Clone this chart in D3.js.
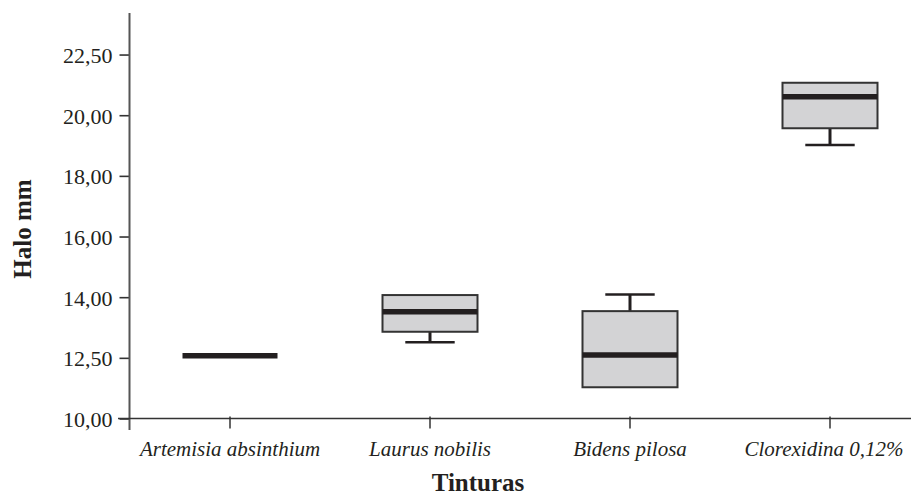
<!DOCTYPE html>
<html>
<head>
<meta charset="utf-8">
<script src="https://cdn.jsdelivr.net/npm/d3@7"></script>
<style>
  html, body { margin: 0; padding: 0; background: #ffffff; }
  svg { display: block; }
  text { font-family: "Liberation Serif", "Times New Roman", serif; fill: #231f20; }
</style>
</head>
<body>
<svg id="chart" width="911" height="497"></svg>
<script>
// Halo size (mm) per tincture: five-number summaries for each box
const categories = ["Artemisia absinthium", "Laurus nobilis", "Bidens pilosa", "Clorexidina 0,12%"];
const minVals    = [12.07, 12.51, 11.03, 19.02];
const q1Vals     = [12.07, 12.86, 11.03, 19.57];
const medianVals = [12.07, 13.52, 12.09, 20.61];
const q3Vals     = [12.07, 14.07, 13.54, 21.07];
const maxVals    = [12.07, 14.07, 14.09, 21.07];

const yTickValues = [10, 12, 14, 16, 18, 20, 22];
const yTickLabels = ["10,00", "12,50", "14,00", "16,00", "18,00", "20,00", "22,50"];

const boxes = categories.map((c, i) => ({
  cat: c, min: minVals[i], q1: q1Vals[i], med: medianVals[i], q3: q3Vals[i], max: maxVals[i]
}));

const svg = d3.select("#chart");

const x = d3.scaleBand().domain(categories).range([130, 930]).paddingInner(0).paddingOuter(0);
const y = d3.scaleLinear().domain([10, 23.37]).range([418.5, 13]);

const boxW = x.bandwidth() * 0.475;
const capW = boxW * 0.52;
const cx = d => x(d.cat) + x.bandwidth() / 2;

// Y axis
const yAxis = d3.axisLeft(y)
  .tickValues(yTickValues)
  .tickFormat((d, i) => yTickLabels[i])
  .tickSize(10)
  .tickPadding(7)
  .tickSizeOuter(0);
const gy = svg.append("g").attr("transform", "translate(129.5,0)").call(yAxis);
gy.select(".domain").remove();
gy.selectAll(".tick line").attr("stroke", "#333").attr("stroke-width", 1.6);
gy.selectAll(".tick text")
  .attr("font-size", 22)
  .attr("font-family", "'Liberation Serif', serif")
  .attr("fill", "#231f20")
  .attr("dy", "0.36em");
gy.append("line")
  .attr("x1", 0).attr("x2", 0)
  .attr("y1", y.range()[1]).attr("y2", 430)
  .attr("stroke", "#555").attr("stroke-width", 2);

// X axis
const xAxis = d3.axisBottom(x).tickSize(10).tickPadding(13).tickSizeOuter(0);
const gx = svg.append("g").attr("transform", "translate(0,418.5)").call(xAxis);
gx.select(".domain").remove();
gx.selectAll(".tick line").attr("stroke", "#333").attr("stroke-width", 1.5).attr("y1", -2);
gx.selectAll(".tick text")
  .attr("font-size", 21)
  .attr("font-style", "italic")
  .attr("font-family", "'Liberation Serif', serif")
  .attr("fill", "#231f20")
  .attr("dx", (d, i) => i === categories.length - 1 ? -6 : 0);
gx.append("line")
  .attr("x1", 118).attr("x2", 911)
  .attr("y1", 0).attr("y2", 0)
  .attr("stroke", "#333").attr("stroke-width", 1.6);

// Box plots
const g = svg.append("g");
const bx = g.selectAll("g.box").data(boxes).join("g").attr("class", "box");

// whiskers: stems
bx.filter(d => d.max > d.q3).append("line")
  .attr("x1", cx).attr("x2", cx)
  .attr("y1", d => y(d.max)).attr("y2", d => y(d.q3))
  .attr("stroke", "#231f20").attr("stroke-width", 3);
bx.filter(d => d.min < d.q1).append("line")
  .attr("x1", cx).attr("x2", cx)
  .attr("y1", d => y(d.q1)).attr("y2", d => y(d.min))
  .attr("stroke", "#231f20").attr("stroke-width", 3);
// whisker caps
bx.filter(d => d.max > d.q3).append("line")
  .attr("x1", d => cx(d) - capW / 2).attr("x2", d => cx(d) + capW / 2)
  .attr("y1", d => y(d.max)).attr("y2", d => y(d.max))
  .attr("stroke", "#231f20").attr("stroke-width", 2.5);
bx.filter(d => d.min < d.q1).append("line")
  .attr("x1", d => cx(d) - capW / 2).attr("x2", d => cx(d) + capW / 2)
  .attr("y1", d => y(d.min)).attr("y2", d => y(d.min))
  .attr("stroke", "#231f20").attr("stroke-width", 2.5);

// boxes
bx.filter(d => d.q3 > d.q1).append("rect")
  .attr("x", d => cx(d) - boxW / 2)
  .attr("width", boxW)
  .attr("y", d => y(d.q3))
  .attr("height", d => y(d.q1) - y(d.q3))
  .attr("fill", "#d3d3d5")
  .attr("stroke", "#333")
  .attr("stroke-width", 2);

// medians
bx.append("line")
  .attr("x1", d => cx(d) - boxW / 2).attr("x2", d => cx(d) + boxW / 2)
  .attr("y1", d => y(d.med)).attr("y2", d => y(d.med))
  .attr("stroke", "#231f20").attr("stroke-width", 5.5);

// Axis titles
svg.append("text")
  .attr("x", 478).attr("y", 491)
  .attr("text-anchor", "middle")
  .attr("font-size", 25)
  .attr("font-weight", "bold")
  .text("Tinturas");

svg.append("text")
  .attr("transform", "translate(31,229) rotate(-90)")
  .attr("text-anchor", "middle")
  .attr("font-size", 25)
  .attr("font-weight", "bold")
  .text("Halo mm");
</script>
</body>
</html>
